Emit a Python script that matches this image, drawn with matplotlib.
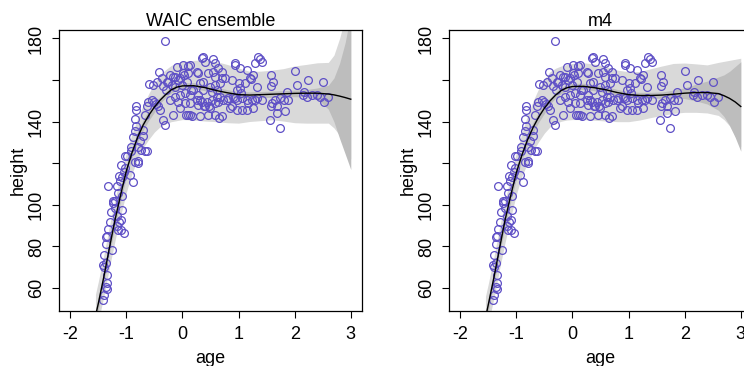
import numpy as np
import matplotlib
matplotlib.use("Agg")
import matplotlib.pyplot as plt

plt.rcParams['font.family'] = ['Liberation Sans', 'DejaVu Sans']

age_pts = [
    -1.41, -1.40, -1.42, -1.40, -1.36, -1.35, -1.35, -1.36, -1.34, -1.39, -1.36, -1.36, -1.34,
    -1.26, -1.33, -1.29, -1.28, -1.23, -1.24, -1.20, -1.20, -1.16, -1.13, -1.10, -1.10, -1.04,
    -1.08, -1.14, -1.17, -1.08, -1.14, -1.16, -1.11, -1.13, -1.08, -1.04, -1.02, -1.10, -1.03,
    -0.98, -0.94, -0.89, -1.32, -0.92, -0.91, -0.88, -0.85, -0.83, -0.85, -0.82, -0.83, -0.79,
    -0.85, -0.80, -0.79, -0.75, -0.73, -0.70, -0.67, -0.64, -0.70, -0.66, -0.64, -0.61, -0.55,
    -0.51, -0.47, -0.43, -0.40, -0.35, -0.31, -0.60, -0.53, -0.46, -0.41, -0.37, -0.34, -0.30,
    -0.31,
    0.372, 0.551, 0.580, 0.402, 0.134, 0.105, 0.015, -0.133, -0.222, -0.252, -0.074, -0.014,
    -0.133, 0.075, 0.253, 0.283, 0.313, 0.372, 0.461, 0.551, 0.580, 0.640, 0.699, 0.669,
    0.759, 0.580, 0.491, 0.283, 0.194, 0.134, 0.045, -0.044, -0.133, -0.222, -0.074, 0.045,
    0.134, 0.253, 0.283, 0.342, 0.402, 0.491, 0.580, 0.640, 0.729, 0.818, 0.907, 0.967,
    1.056, 1.145, 1.234, 1.323, 1.413, 0.878, 0.967, 1.056, 1.145, 1.264, 0.105, 0.164,
    0.313, 0.461, 0.580, 0.699, -0.044, -0.163, 0.937, 1.026, 1.145, 1.294, 1.353, 1.413,
    1.204, 1.115, 1.026, 0.878,
    -0.10, 0.01, 0.10, -0.16, -0.04, 0.03, -0.19, -0.28, 0.16, 0.36, 0.52, 0.61, 0.67, 0.79,
    0.85, 0.94, 0.97, 1.00, 1.04, 1.17, 1.22, 1.25, 1.29, 1.32, 1.38, 0.34, 0.65, 0.31, 0.43,
    0.53, 0.38, 0.48, 0.62, 0.70, 0.94, 0.07, 0.13,
    1.57, 1.62, 1.57, 1.59, 1.57, 1.56, 1.73, 1.68, 1.65, 1.68, 1.74, 1.81, 1.83, 1.87, 1.89,
    2.01, 2.05, 2.14, 2.17, 2.24, 2.22, 2.30, 2.39, 2.51, 2.52, 2.59, 2.45,
]
height_pts = [
    54.4, 56.8, 71.0, 70.0, 72.0, 66.4, 62.4, 60.5, 59.5, 76.0, 81.0, 84.5, 85.0,
    78.4, 88.4, 92.0, 96.5, 101.7, 101.0, 102.0, 98.5, 94.5, 91.6, 92.9, 87.7, 86.4,
    97.3, 87.7, 89.6, 104.4, 105.7, 108.9, 111.3, 114.0, 113.2, 115.6, 117.7, 119.3, 123.3,
    123.6, 114.5, 110.8, 109.3, 125.7, 128.0, 132.6, 135.3, 137.7, 141.3, 147.6, 145.7, 121.2,
    120.4, 120.0, 128.0, 130.5, 126.5, 132.9, 125.7, 125.7, 136.0, 143.3, 147.3, 149.4, 150.5,
    149.7, 148.6, 147.3, 145.7, 140.6, 138.5, 158.2, 157.7, 159.3, 164.1, 161.0, 157.0, 155.3,
    179.0,
    171.3, 170.1, 168.1, 168.9, 167.3, 163.3, 163.3, 161.7, 162.5, 159.3, 160.1, 157.7,
    156.9, 159.3, 164.1, 163.3, 158.5, 159.3, 163.3, 164.1, 161.7, 165.7, 164.1, 158.5,
    160.9, 157.7, 156.9, 152.9, 155.3, 152.9, 153.7, 152.9, 152.1, 150.5, 149.7, 148.9,
    148.9, 150.5, 148.1, 149.7, 147.3, 146.5, 148.9, 149.7, 150.5, 151.3, 152.1, 150.5,
    151.3, 150.5, 150.5, 151.3, 150.5, 147.3, 145.7, 145.7, 145.7, 146.5, 143.3, 142.5,
    142.5, 143.3, 143.3, 142.5, 146.5, 143.3, 168.1, 165.7, 164.9, 168.1, 171.3, 168.9,
    160.9, 158.5, 156.1, 160.1,
    166.5, 167.3, 166.9, 161.7, 161.0, 162.5, 157.7, 159.3, 155.3, 155.3, 154.5, 155.3, 152.1, 150.5,
    146.5, 151.3, 155.3, 158.5, 154.0, 148.9, 160.4, 162.5, 150.5, 156.6, 170.0, 170.5, 141.7, 150.5, 149.7,
    150.5, 147.3, 147.6, 152.1, 161.0, 167.3, 143.3, 143.3,
    162.5, 159.3, 157.0, 148.9, 147.3, 140.6, 136.9, 144.1, 150.5, 147.3, 151.3, 150.5, 144.9, 154.5, 150.5,
    164.6, 157.7, 152.9, 154.5, 160.1, 152.1, 152.9, 152.9, 158.9, 149.7, 152.1, 152.1,
]

# prediction grid
age_seq = [-1.55, -1.5, -1.4, -1.3, -1.2, -1.1, -1.0, -0.9, -0.8, -0.7, -0.6, -0.5, -0.4, -0.3,
           -0.2, -0.1, 0.0, 0.2, 0.4, 0.6, 0.8, 1.0, 1.2, 1.4, 1.6, 1.8, 2.0, 2.2, 2.4, 2.6,
           2.7, 2.8, 2.9, 3.0]

# WAIC ensemble
ens_mu = [46.5, 52.5, 65.5, 79.5, 93, 105, 116.3, 125, 132.4, 138.4, 143.1, 147, 150.3, 153,
          155.3, 156.6, 157.2, 157.3, 156.4, 155.0, 153.9, 153.0, 152.8, 153.0, 153.2, 153.4,
          153.6, 153.7, 153.7, 153.3, 152.9, 152.3, 151.6, 150.8]
ens_mu_lo = [43.5, 49.5, 62.5, 76.5, 90, 102, 113.3, 122.5, 129.9, 135.9, 140.6, 144.5, 148.8,
             151.5, 153.8, 155.1, 155.7, 155.8, 154.9, 153.5, 152.4, 151.5, 151.3, 151.5, 151.7,
             151.9, 152.0, 152.0, 151.2, 146, 140, 132, 124.5, 117]
ens_mu_hi = [49.5, 55.5, 68.5, 82.5, 96, 108, 119.3, 127.5, 134.9, 140.9, 145.6, 149.5, 151.8,
             154.5, 156.8, 158.1, 158.7, 158.8, 157.9, 156.5, 155.4, 154.5, 154.3, 154.5, 154.7,
             154.9, 155.2, 155.4, 156.2, 157.5, 161, 168, 178, 192]
ens_pi_lo = [38, 44, 56, 70, 83, 95, 106, 115, 122, 127.5, 131.5, 135, 137.5, 139, 140, 140.5,
             141, 140.8, 140.3, 140, 139.5, 139.3, 140.1, 140.5, 140.9, 140.3, 139.5, 139.3,
             139.3, 139.3, 137, 133.5, 127, 122]
ens_pi_hi = [57, 63, 76, 90, 103, 114.5, 125, 134, 141.5, 148, 153.5, 158.5, 162.5, 165, 167,
             168.2, 168.9, 169.5, 169.7, 168.9, 167.5, 165.8, 164.2, 164.3, 164.8, 165.5, 166.8,
             167.5, 168.3, 168.5, 172, 180, 190, 192]

# m4
m4_mu = [45.5, 52, 65, 79, 92.8, 104.5, 115.5, 124, 131.3, 137.3, 142.3, 146.5, 150, 152.8,
         155, 156.3, 156.9, 157.0, 156.3, 155.3, 154.0, 153.0, 152.6, 152.6, 152.8, 153.2,
         153.7, 154.0, 154.0, 153.5, 152.5, 151.2, 149.5, 147.3]
m4_mu_lo = [42.5, 49, 62, 76, 89.8, 101.5, 112.5, 121.5, 128.8, 134.8, 139.8, 144, 148.5, 151.3,
            153.5, 154.8, 155.4, 155.5, 154.8, 153.8, 152.5, 151.5, 151.1, 151.1, 151.3, 151.2,
            151.1, 150, 148.5, 145.5, 142.5, 138.2, 132.5, 125.8]
m4_mu_hi = [48.5, 55, 68, 82, 95.8, 107.5, 118.5, 126.5, 133.8, 139.8, 144.8, 149, 151.5, 154.3,
            156.5, 157.8, 158.4, 158.5, 157.8, 156.8, 155.5, 154.5, 154.1, 154.1, 154.3, 155.2,
            156.3, 158, 159.5, 161.5, 162.5, 164.2, 166.5, 168.8]
m4_pi_lo = [37, 43, 55, 69, 82, 94, 105, 114, 120, 126, 130.5, 134.5, 137.5, 139.2, 140.2, 140.8,
            141, 141, 140.7, 140.3, 140, 140, 140.8, 142, 143, 144, 144.5, 144.5, 144.2, 143,
            141, 138, 133, 128]
m4_pi_hi = [56, 62, 75, 89, 102, 114, 125, 134.5, 143, 150, 156, 160.5, 164, 165.7, 166.8, 167.5,
            168, 168.3, 167.7, 166.5, 164.8, 164, 164.1, 165.5, 166.8, 168, 168.2, 167.8, 167.3,
            168.5, 169, 169.5, 170, 170.5]

pt_col = '#5E4FC6'
fs = 13


def draw_panel(ax, title, mu, mu_lo, mu_hi, pi_lo, pi_hi):
    ax.fill_between(age_seq, pi_lo, pi_hi, color='#D9D9D9', lw=0, zorder=1)
    ax.fill_between(age_seq, mu_lo, mu_hi, color='#BDBDBD', lw=0, zorder=2)
    ax.plot(age_pts, height_pts, 'o', mfc='none', mec=pt_col, ms=5.6, mew=0.9, zorder=3)
    ax.plot(age_seq, mu, color='black', lw=1.0, zorder=4)
    ax.set_xlim(-2.2, 3.2)
    ax.set_ylim(48.97, 184.08)
    ax.set_xticks([-2, -1, 0, 1, 2, 3])
    ax.set_xticklabels(['-2', '-1', '0', '1', '2', '3'])
    ax.set_yticks([60, 80, 100, 120, 140, 160, 180])
    ax.set_yticklabels(['60', '80', '100', '', '140', '', '180'], rotation=90, va='center')
    ax.tick_params(direction='out', length=5, width=0.8, labelsize=fs)
    ax.tick_params(axis='x', pad=6)
    ax.tick_params(axis='y', pad=5)
    for s in ax.spines.values():
        s.set_linewidth(0.9)
    ax.set_xlabel('age', fontsize=fs, labelpad=5)
    ax.set_ylabel('height', fontsize=fs, labelpad=1)
    ax.set_title(title, fontsize=fs, pad=3)


fig = plt.figure(figsize=(7.44, 3.66), dpi=100)
ax1 = fig.add_axes([59 / 744, 55 / 366, 303 / 744, 281 / 366])
ax2 = fig.add_axes([449 / 744, 55 / 366, 303 / 744, 281 / 366])

draw_panel(ax1, 'WAIC ensemble', ens_mu, ens_mu_lo, ens_mu_hi, ens_pi_lo, ens_pi_hi)
draw_panel(ax2, 'm4', m4_mu, m4_mu_lo, m4_mu_hi, m4_pi_lo, m4_pi_hi)

fig.savefig('out.png', dpi=100)
